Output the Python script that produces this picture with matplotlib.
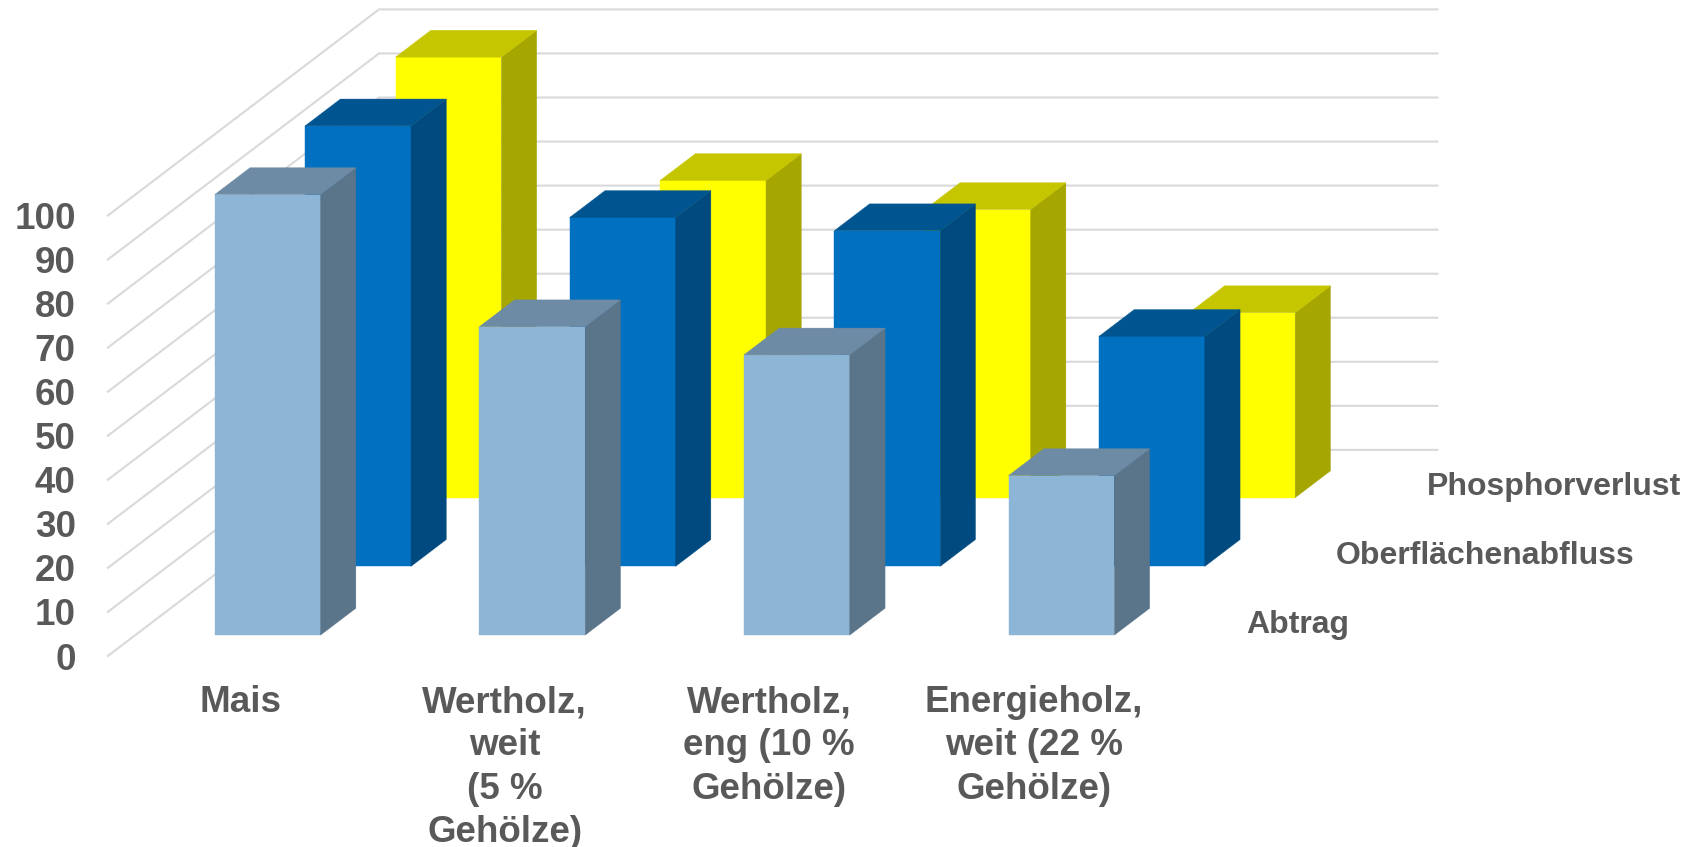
#!/usr/bin/env python
# -*- coding: utf-8 -*-
"""3D-look bar chart, drawn with an oblique projection on a plain axes"""

import matplotlib
matplotlib.use('Agg')
import matplotlib.pyplot as plt
from matplotlib.patches import Polygon

plt.rcParams['font.family'] = ['Liberation Sans', 'DejaVu Sans']

categories = ['Mais', 'Wertholz,\nweit\n(5 %\nGehölze)',
              'Wertholz,\neng (10 %\nGehölze)',
              'Energieholz,\nweit (22 %\nGehölze)']
series = ['Abtrag', 'Oberflächenabfluss', 'Phosphorverlust']
abtrag = [100, 70, 63.6, 36.2]
abfluss = [100, 79.2, 76.2, 52.2]
phosphor = [100, 72, 65.4, 42]
y_ticks = list(range(0, 101, 10))

# front, side, top
colors = [('#8DB6D6', '#5A748A', '#6E8BA5'),
          ('#0070C0', '#004A80', '#005490'),
          ('#FFFF00', '#A6A600', '#C6C600')]

GRID = '#D9D9D9'
TEXT = '#595959'

# projection, in output pixels
X0, Y0 = 107.8, 656.0
CAT_W = 264.6
DX, DY = 90.4, 68.7
V_SCALE = 4.405
BAR_W = 0.40
BAR_D = 0.39


def project(cat, val, depth):
    """category, value, depth -> pixel position"""
    return X0 + cat * CAT_W + depth * DX, Y0 - val * V_SCALE - depth * DY


def draw_bar(ax, cat, val, depth, cols):
    """Draw a single bar with front, side and top faces"""
    c0 = cat + (1 - BAR_W) / 2
    c1 = c0 + BAR_W
    d0 = depth + (1 - BAR_D) / 2
    d1 = d0 + BAR_D
    front = [project(c0, 0, d0), project(c1, 0, d0),
             project(c1, val, d0), project(c0, val, d0)]
    side = [project(c1, 0, d0), project(c1, 0, d1),
            project(c1, val, d1), project(c1, val, d0)]
    top = [project(c0, val, d0), project(c1, val, d0),
           project(c1, val, d1), project(c0, val, d1)]
    for pts, col in zip((front, side, top), cols):
        ax.add_patch(Polygon(pts, closed=True, facecolor=col,
                             edgecolor=col, linewidth=0.3))


def main():
    fig = plt.figure(figsize=(16.9, 8.47), dpi=100)
    ax = fig.add_axes([0, 0, 1, 1])
    ax.set_xlim(0, 1690)
    ax.set_ylim(847, 0)
    ax.axis('off')

    n_cat = len(categories)
    n_ser = len(series)
    for v in y_ticks:
        pts = [project(0, v, 0), project(0, v, n_ser), project(n_cat, v, n_ser)]
        ax.plot([p[0] for p in pts], [p[1] for p in pts], color=GRID,
                linewidth=1.5, solid_joinstyle='miter', zorder=1)
        x, y = project(0, v, 0)
        ax.text(x - 32, y + 4, str(v), ha='right', va='center',
                fontsize=26.5, fontweight='bold', color=TEXT)

    values = [abtrag, abfluss, phosphor]
    for depth in reversed(range(n_ser)):
        for cat in range(n_cat):
            draw_bar(ax, cat, values[depth][cat], depth, colors[depth])

    for i, label in enumerate(categories):
        x, y = project(i + 0.5, 0, 0)
        ax.text(x, y + 29, label, ha='center', va='top', fontsize=26.5,
                fontweight='bold', color=TEXT, linespacing=1.31)

    for i, label in enumerate(series):
        x, y = project(n_cat, 0, i + 0.88)
        ax.text(x, y + 29, label, ha='left', va='center', fontsize=23,
                fontweight='bold', color=TEXT)

    fig.savefig('out.png', dpi=100)


if __name__ == '__main__':
    main()
